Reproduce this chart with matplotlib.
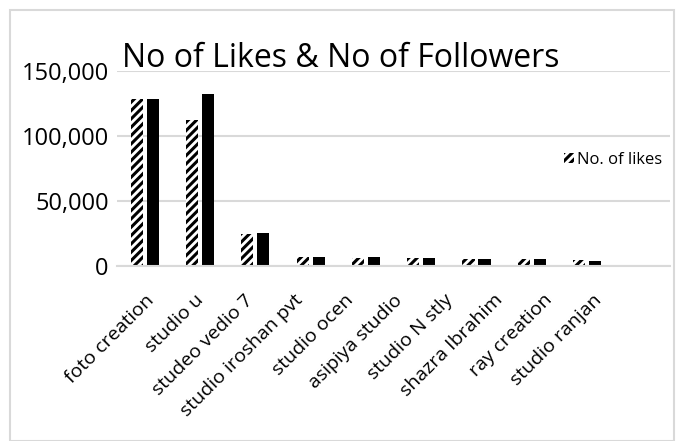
import numpy as np
import matplotlib
matplotlib.use('Agg')
import matplotlib.pyplot as plt
from matplotlib.patches import Rectangle
from matplotlib.ticker import FuncFormatter

# данные с графика
studios = ['foto creation', 'studio u', 'studeo vedio 7', 'studio iroshan pvt',
           'studio ocen', 'asipiya studio', 'studio N stly', 'shazra Ibrahim',
           'ray creation', 'studio ranjan']
likes = [128500, 112500, 24800, 6900, 6400, 5800, 5600, 5500, 4300, 300]
followers = [128300, 132500, 25300, 7000, 6500, 6000, 5700, 5600, 4100, 400]

plt.rcParams['font.family'] = ['Open Sans', 'DejaVu Sans']
plt.rcParams['hatch.linewidth'] = 2.2

fig = plt.figure(figsize=(6.81, 4.41), dpi=100)
ax = fig.add_axes([0.172, 0.397, 0.812, 0.442])

x = np.arange(len(studios))
w = 0.22
b1 = ax.bar(x - 0.145, likes, w, color='white', edgecolor='black',
            hatch='////', linewidth=0, label='No. of likes')
b2 = ax.bar(x + 0.145, followers, w, color='black', label='No. of followers')

ax.set_xlim(-0.5, len(studios) - 0.5)
ax.set_ylim(0, 150000)
ax.set_yticks([0, 50000, 100000, 150000])
ax.yaxis.set_major_formatter(FuncFormatter(lambda v, p: f'{int(v):,}'))
ax.grid(axis='y', color='#d9d9d9', linewidth=1.5)
ax.set_axisbelow(True)
for s in ['top', 'right', 'left']:
    ax.spines[s].set_visible(False)
ax.spines['bottom'].set_color('#d9d9d9')
ax.spines['bottom'].set_linewidth(1.5)
ax.tick_params(axis='y', length=0, labelsize=17, pad=6)
ax.tick_params(axis='x', length=0, labelsize=14, pad=18)
# подписи в Excel немного "уезжают" влево относительно столбцов
ax.set_xticks(x * 0.9)
ax.set_xticklabels(studios, rotation=45, ha='right', rotation_mode='anchor')

fig.text(0.5, 0.868, 'No of Likes & No of Followers', ha='center', va='center',
         fontsize=23)
ax.legend(handles=[b1], loc='center right', bbox_to_anchor=(0.998, 0.544),
          frameon=False, fontsize=12, handlelength=0.6, handleheight=0.6,
          handletextpad=0.2, borderaxespad=0)

# рамка вокруг диаграммы
fig.patches.append(Rectangle((0.015, 0.0), 0.975, 0.977, transform=fig.transFigure,
                             fill=False, edgecolor='#d9d9d9', linewidth=1.5))

fig.savefig('out.png', dpi=100)
